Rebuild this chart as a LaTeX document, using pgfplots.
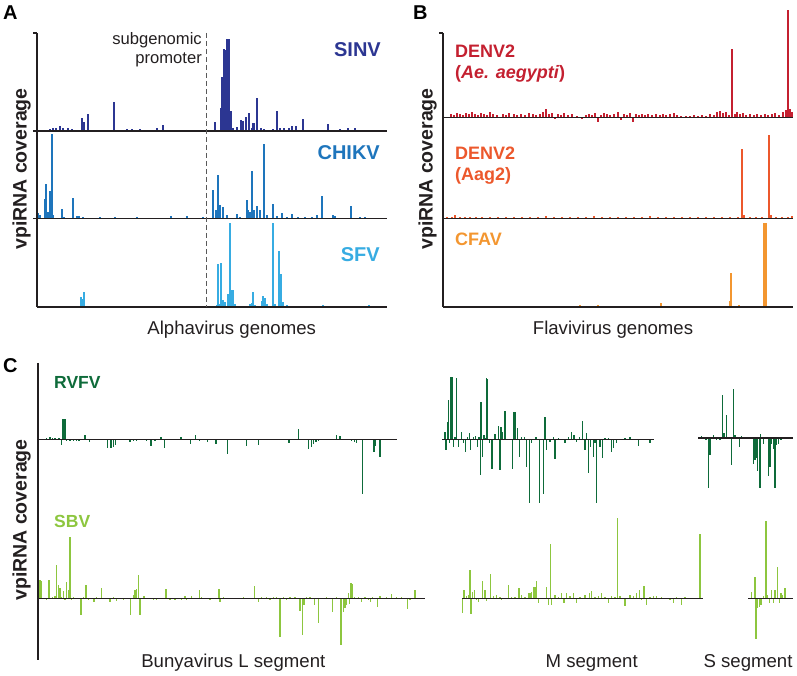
\documentclass[border=0pt]{standalone}
\usepackage{pgfplots}
\pgfplotsset{compat=1.18}
\usepackage{fontspec}
\setmainfont{Liberation Sans}
\definecolor{csinv}{RGB}{44,54,146}
\definecolor{cchikv}{RGB}{30,117,188}
\definecolor{csfv}{RGB}{55,172,226}
\definecolor{cdenva}{RGB}{196,32,48}
\definecolor{cdenvb}{RGB}{236,88,44}
\definecolor{ccfav}{RGB}{243,150,48}
\definecolor{crvfv}{RGB}{14,107,58}
\definecolor{csbv}{RGB}{141,198,63}
\definecolor{cax}{RGB}{35,31,32}
\pgfplotsset{
  sub/.style={scale only axis, axis lines=none, clip=false, anchor=south west},
}
\tikzset{base/.style={draw=cax, line width=1.5pt}}
\newcommand{\fs}[1]{\fontsize{#1}{#1}\selectfont}
\begin{document}
\begin{tikzpicture}[x=1pt,y=1pt]
\useasboundingbox (0pt,0pt) rectangle (797pt,675pt);
% ================= Panel A =================
\begin{axis}[sub, at={(37pt,544pt)}, width=350pt, height=98pt, xmin=37, xmax=387, ymin=0, ymax=98]
\addplot[ycomb, color=csinv, line width=2.2pt] coordinates {
(50,2)(53,2.5)(56,3)(60,5.3)(63,3)(68,3)(72,1.5)(78,1)(82,13.3)(84,9)(88,16.7)(95,1)(100,1)(105,1)
(114,28.7)(127,1.5)(132,1.5)(140,2)(150,1)(157,3)(163,6.3)(170,1)(180,1)(190,1)
(215,8.7)(221,23)(222.5,54)(224,82)(225.5,81)(227,92)(229,92)(231,20)(233,3)(237,4)(241,11)(243,10)
(246,14)(249,18)(252,3)(253.5,8)(257,33)(261,3)(264,2)(270,1)(273,2)(277,20)(280,3)(284,2.5)(289,2.5)
(292,5)(296,5.3)(303,12.3)(310,1)(318,1)(328,6.7)(335,1)(340,1.7)(348,3)(355,3)(358,1)(365,1)};
\draw[base] (axis cs:37,0) -- (axis cs:387,0);
\end{axis}
\begin{axis}[sub, at={(37pt,456.5pt)}, width=350pt, height=87.5pt, xmin=37, xmax=387, ymin=0, ymax=87.5]
\addplot[ycomb, color=cchikv, line width=1.8pt] coordinates {
(38.3,5)(40,3.3)(45,19.3)(46.3,34.3)(47.7,6.7)(50,27.7)(51.7,84)(52.7,3)(62.3,9.3)(64,1.7)(73.3,20)
(77.3,2.3)(79.3,2.3)(82.7,1.7)(100,1)(115,1)(136.7,1)(170.7,2.3)(186.7,2.3)(203.3,1)
(213.3,28.3)(216,8.3)(218.3,43.3)(220,13)(222.7,11)(226.7,3.3)(236.7,4.3)(240,1)(246.7,18.3)(248.3,8.3)
(250,6.7)(252.3,47.3)(254,8.3)(257.3,12.7)(260,8.3)(263.7,74.3)(266.7,3.3)(273.3,14.3)(276.7,2.3)
(282.3,5)(286.7,1.7)(291.7,4.3)(298.3,1)(305,1)(312,1)(317.3,3.3)(322,22.3)(333.3,3.3)(335,2)
(350.7,12.3)(360,1)(365,1)};
\draw[base] (axis cs:37,0) -- (axis cs:387,0);
\end{axis}
\begin{axis}[sub, at={(37pt,368pt)}, width=350pt, height=88pt, xmin=37, xmax=387, ymin=0, ymax=88]
\addplot[ycomb, color=csfv, line width=1.8pt] coordinates {
(40,0.7)(45,0.7)(50,0.7)(55,0.7)(61.7,1.3)(65,1)(81,10)(82.3,8)(84,15)(105,1)(183.3,1)
(216.7,1.7)(217.7,42.7)(219.3,3.3)(221,44)(222.7,6.7)(225,5)(228.3,13.3)(230,84.3)(231.7,17.3)
(233.3,17.3)(235,3.3)(250,3.3)(251.7,4)(253,15)(255,1.7)(261.7,6)(263.3,10.7)(265,9)(266.7,3.3)
(272.7,84.3)(275,3.3)(279.3,55.7)(281,33.3)(282.7,5)(286.7,1.7)(323.3,2.3)(369.3,1.7)};
\draw[base] (axis cs:37,0) -- (axis cs:387,0);
\end{axis}
% ================= Panel B =================
\begin{axis}[sub, at={(443pt,557.5pt)}, width=350pt, height=84.5pt, xmin=443, xmax=793, ymin=0, ymax=84.5]
\addplot[ycomb, color=cdenva, line width=1.2pt] coordinates {
(451,3)(454,2)(457,4)(460,3)(463,2)(466,4)(469,3)(472,5)(475,3)(478,2)(481,4)(484,3)(487,2)(490,5)
(493,3)(497,2)(503,3)(506,2)(509,4)(514,3)(517,2)(521,3)(525,2)(529,4)(533,3)(536,2)(540,3)(543,5)
(546,8)(549,3)(552,4)(555,-2)(558,3)(561,2)(564,4)(568,2)(572,3)(577,1)(582,-2)(586,2)(589,3)(592,2)
(595,4)(598,-5)(601,2)(604,4)(607,3)(610,2)(614,3)(618,5)(621,-3)(624,3)(627,2)(630,4)(633,-5)
(636,3)(639,2)(642,3)(645,2)(648,3)(652,2)(656,3)(660,2)(663,3)(666,2)(670,3)(674,4)(677,2)(681,1)
(686,1)(690,1)(694,2)(698,1)(702,2)(706,1)(710,3)(714,2)(717,5)(720,6)(723,4)(726,5)(729,2)
(732,68)(735,3)(737,5)(740,3)(743,4)(746,2)(750,3)(754,2)(757,3)(761,2)(765,3)(768,2)(772,3)(775,4)
(779,2)(783,5)(786,7)(788,107)(790,8)(792,5)};
\draw[base] (axis cs:443,0) -- (axis cs:793,0);
\end{axis}
\begin{axis}[sub, at={(443pt,456.5pt)}, width=350pt, height=87pt, xmin=443, xmax=793, ymin=0, ymax=87]
\addplot[ycomb, color=cdenvb, line width=1.4pt] coordinates {
(447,1)(452,1)(455,3)(460,1)(465,1)(470,1)(476,1)(482,1)(490,1)(498,1)(506,1)(514,1)(522,1)(530,1)
(538,1)(546,2)(554,1)(562,1)(570,1)(578,1)(586,1)(594,2)(602,1)(610,1)(618,1)(626,1)(634,1)(642,1)
(650,2)(658,1)(666,1)(674,1)(682,1)(690,1)(698,1)(706,1)(714,1)(722,1)(730,1)(738,1)(742,69)(744,3)
(750,1)(756,1)(762,1)(769,83)(771,3)(776,1)(782,1)(788,1)(792,2)};
\draw[base] (axis cs:443,0) -- (axis cs:793,0);
\end{axis}
\begin{axis}[sub, at={(443pt,368pt)}, width=350pt, height=87pt, xmin=443, xmax=793, ymin=0, ymax=87]
\addplot[ycomb, color=ccfav, line width=1.4pt] coordinates {
(580,2)(598,2)(661,4)(730,6)(731,34)(739,2)(764,84)(765,84)(766,84)};
\draw[base] (axis cs:443,0) -- (axis cs:793,0);
\end{axis}
% ================= Panel C =================
\begin{axis}[sub, at={(38pt,165.5pt)}, width=359pt, height=140pt, xmin=38, xmax=397, ymin=-70, ymax=70]
\addplot[ycomb, color=crvfv, line width=1.2pt] coordinates {
(46.7,1)(50,2.7)(52.3,1.7)(55,1)(59,1.3)(61.7,-6)(63,20)(64.3,20)(65.3,20)(66.7,-1.7)(70,-1.7)(73.3,-2)
(76.7,-1.7)(79,-2)(85,4)(89.3,-2.7)(100,-1)(103.3,-1)(107.7,-8.3)(111,-8.3)(113.3,-7.3)(115.7,-6)
(130,-2.7)(133.3,-2)(136.7,-1.7)(140,-1)(143.3,-0.7)(146.7,-2)(151,-6.7)(155,-1.7)(161,2.7)(164.3,-8.3)
(181,2.7)(190.7,-5)(195.3,4.3)(199.3,-1.7)(207.3,-2.3)(216,-5)(227.7,-14.3)(246.7,-6.7)(258.3,-5.3)
(289,-3.3)(298.7,10)(308.3,-10)(311.7,-7.3)(313.3,-5)(316,-2.7)(318.3,-1.7)(321.7,-1)(336.7,4)(340,3.3)
(345,-1)(348.3,-1)(351.7,-1.7)(354.3,-2.3)(356.7,-3.3)(362.7,-55)(374,-12.3)(375.7,-6.7)(380,-17.7)};
\draw[base] (axis cs:38,0) -- (axis cs:397,0);
\end{axis}
\begin{axis}[sub, at={(442pt,165.5pt)}, width=212pt, height=140pt, xmin=442, xmax=654, ymin=-70, ymax=70]
\addplot[ycomb, color=crvfv, line width=1.2pt] coordinates {
(445,7.7)(446,-10.7)(447.3,17.7)(448.3,39.3)(449.3,-4)(451,62)(452.3,62)(453.3,-7.3)(455,2.7)(456.7,61)
(458.3,-7.3)(461.7,7.7)(463.3,-4)(465.7,-12.3)(467.3,2.7)(469.3,6.7)(470.7,-10.7)(473.3,2.7)(475.7,3.3)
(477.3,-7.3)(479,2)(480.7,-35.7)(481,37.7)(482.3,-17.3)(484,4.3)(486,1)(486.7,61)(487.7,60)(489.3,-4)
(492,-30)(495,5.3)(498.3,13.3)(500,-30.7)(501,12)(502.7,7.7)(505,28.7)(506.7,-0.7)(512.7,-30)(514,27.7)
(515.7,27.7)(517.3,11)(519.3,-17.3)(521.7,2.7)(524.3,2.7)(526.7,-27.3)(529.3,-63)(531.7,-4)(534.3,-0.7)
(536,2.7)(539.3,-63)(543.3,-54)(545,22)(546.7,-10.7)(550,-2.3)(553.3,2.7)(555,-20)(558.3,1)(561.7,-0.7)
(565,-4)(568.3,2.7)(571.7,7.7)(574,4.3)(576.7,-2.3)(579.3,2)(582.7,18.3)(585,-10.7)(586.7,6)(588.3,-33.3)
(590.7,-8)(593.3,-17.3)(595,-4)(596.7,-63)(600,-7.3)(602.3,-19)(605,1)(608.3,1)(611.7,-12.3)(613.3,-9)
(616.7,-4)(620,-0.7)(625,1)(630,2.7)(634,-0.7)(638.3,-6.7)(643.3,-0.7)(650,-3.3)};
\draw[base] (axis cs:442,0) -- (axis cs:654,0);
\end{axis}
\begin{axis}[sub, at={(698pt,167pt)}, width=95pt, height=140pt, xmin=698, xmax=793, ymin=-70, ymax=70]
\addplot[ycomb, color=crvfv, line width=1.2pt] coordinates {
(701.7,1.7)(703.3,1)(706,-2.3)(708.3,-50)(710,-17.3)(711.7,1)(713.3,2.7)(715,0.3)(716.7,-2.3)(720,-1.7)
(722.3,42.7)(724,5)(726.7,22.7)(728.3,1)(731.7,-26.7)(733.3,49.3)(735,2.7)(739.3,-9)(741.7,2)
(753.3,-25.7)(755,-22.3)(756.7,-20)(757.7,-33.3)(760,-50)(760.7,4.3)(763.3,-5.7)(766,-0.7)(768.3,-38.3)
(770,-29)(771.7,-5.7)(773.3,-10.7)(775,-50)(776.7,-7.3)(778.3,-5.7)(781,-2)(784,-1)};
\draw[base] (axis cs:698,0) -- (axis cs:793,0);
\end{axis}
\begin{axis}[sub, at={(38pt,6.3pt)}, width=387pt, height=140pt, xmin=38, xmax=425, ymin=-70, ymax=70]
\addplot[ycomb, color=csbv, line width=1.3pt] coordinates {
(40,18.7)(41.7,18)(46.7,-1.3)(49,18.7)(52.3,1.3)(55,2.7)(56.7,33.7)(58.3,13.7)(60,10.3)(61.7,2)(63.3,7.7)
(65,-1.3)(66.7,17)(68.3,8.7)(70,62)(71.7,-1.3)(73.3,2)(81,-16.3)(83.3,1.3)(86,14)(88.3,-1.3)(94,-3.7)
(96.7,2)(101.7,10.7)(110,-3.3)(113.3,2)(116.7,-2)(123.3,-1.3)(130.7,-16.3)(133.3,3.7)(135,8.7)(136.7,9.3)
(138.3,23.7)(140,-16.3)(144,3)(153.3,-1.3)(156.7,-0.7)(166,9.3)(170,-1.3)(175,-0.7)(181.7,-1.3)(185,2.7)
(186.7,-0.7)(191.7,2.7)(199.3,8.7)(201.7,2)(210,-1.3)(219,10)(220,-3.3)(223.3,2)(230,1)(243.3,1.3)
(254.3,13)(258.3,-3.7)(261.7,2)(266.7,1.3)(270,-1.3)(273.3,2)(276.7,1.3)(280,-38)(283.3,1.3)(286.7,-1.3)
(290,2)(295,1.3)(300,-12)(302.7,-36.3)(304,-6.3)(306.7,2)(310,2)(314.3,-6.3)(318.7,-24.7)(326.7,1.3)
(332.7,-13)(336.7,2)(341,-46.3)(343.3,-13)(345,-9)(346.7,-6.3)(348.3,5.3)(349.3,-5.7)(351,15.3)
(352.7,14.7)(354.3,2)(358.3,1.3)(361.7,-3)(365,1.3)(368.3,-1.3)(370.7,-3.7)(372.7,1.3)(377.7,-8)(380,2.7)
(386.7,1.3)(391.7,4.7)(396.7,1.3)(401.7,2)(407.3,-10.7)(410,-0.7)(415,8.7)};
\draw[base] (axis cs:38,0) -- (axis cs:425,0);
\end{axis}
\begin{axis}[sub, at={(462pt,6.5pt)}, width=241pt, height=140pt, xmin=462, xmax=703, ymin=-70, ymax=70]
\addplot[ycomb, color=csbv, line width=1.3pt] coordinates {
(462.7,-15)(464,8.3)(466.7,2.3)(468.3,3.3)(470,28.3)(471,-15.7)(472.7,6.7)(474.3,8.3)(476.7,-1.7)
(478.3,-3.3)(482.7,17.3)(485,8.3)(486.7,-2.7)(490.7,24.3)(493.3,2.3)(496.7,3.3)(500,1.7)(501.7,-1.7)
(508.3,13.3)(511.7,1.7)(515,1.7)(519,10.3)(521.7,3.3)(525,1)(528.3,5)(530,5)(531.7,6.7)(534,11)
(535.7,11.7)(536.7,17.7)(538.3,-5)(546.7,11)(548.3,-6.7)(550.3,54.3)(551.7,-6.7)(555,3.3)(558.3,1.7)
(561.7,5)(564,-4.3)(566.7,5)(570,2.3)(573.3,5.7)(576.7,-5)(580,1.7)(585,3.3)(589.3,5.7)(591.7,7.7)
(595,1.7)(598.3,2.3)(601.7,5)(605,1)(608.3,-4.3)(611.7,2.3)(615,1.7)(617.7,80)(620,2.3)(625,-7.7)
(630,3.3)(633.3,2.3)(636.7,5.7)(639.3,8.3)(641.7,-1.7)(644,12.3)(646.7,-6.7)(650,1.7)(653.3,2.3)
(656.7,2.3)(661.7,1.7)(670,-1.7)(673.3,-5)(676.7,1.7)(681.7,-6.7)(685,1.7)(700,64.3)};
\draw[base] (axis cs:462,0) -- (axis cs:703,0);
\end{axis}
\begin{axis}[sub, at={(748pt,6.5pt)}, width=45pt, height=140pt, xmin=748, xmax=793, ymin=-70, ymax=70]
\addplot[ycomb, color=csbv, line width=1.3pt] coordinates {
(751.7,6.7)(755,21.7)(756,-40)(757.3,-10)(759.3,-8.3)(761,-6.7)(763.3,2.3)(766,77.7)(767.3,3.3)
(769.3,-5)(771.7,8.3)(773.3,-5)(775,8.3)(777.7,31)(779.3,-5)(781,5)(782.7,3.3)(785,10)};
\draw[base] (axis cs:748,0) -- (axis cs:793,0);
\end{axis}
% ================= axes lines & decorations =================
\draw[cax, line width=1.4pt] (37pt,642pt) -- (37pt,368pt);
\draw[cax, line width=1.4pt] (33pt,642pt) -- (37pt,642pt);
\draw[cax, line width=1.4pt] (33pt,544pt) -- (37pt,544pt);
\draw[cax, line width=1.4pt] (33pt,456.5pt) -- (37pt,456.5pt);
\draw[cax, line width=1.4pt] (443pt,642pt) -- (443pt,368pt);
\draw[cax, line width=1.4pt] (439pt,642pt) -- (443pt,642pt);
\draw[cax, line width=1.4pt] (38pt,312pt) -- (38pt,15pt);
\draw[black!65, line width=1.2pt, dash pattern=on 5pt off 3pt] (206.5pt,642pt) -- (206.5pt,368pt);
% ================= text =================
\node[anchor=base west, inner sep=0pt, font=\fs{20}\bfseries] at (3pt,655pt) {A};
\node[anchor=base west, inner sep=0pt, font=\fs{20}\bfseries] at (413pt,655pt) {B};
\node[anchor=base west, inner sep=0pt, font=\fs{20}\bfseries] at (3pt,302pt) {C};
\node[anchor=base east, inner sep=0pt, font=\fs{16.6}, text=cax] at (202pt,630pt) {subgenomic};
\node[anchor=base east, inner sep=0pt, font=\fs{16.6}, text=cax] at (202pt,611pt) {promoter};
\node[anchor=base east, inner sep=0pt, font=\fs{20}\bfseries, text=csinv] at (381pt,618.5pt) {SINV};
\node[anchor=base east, inner sep=0pt, font=\fs{20}\bfseries, text=cchikv] at (380pt,515pt) {CHIKV};
\node[anchor=base east, inner sep=0pt, font=\fs{20}\bfseries, text=csfv] at (380pt,413pt) {SFV};
\node[anchor=base west, inner sep=0pt, font=\fs{18}\bfseries, text=cdenva] at (455pt,617.3pt) {DENV2};
\node[anchor=base west, inner sep=0pt, font=\fs{18}\bfseries, text=cdenva] at (455pt,596.7pt) {(\textit{Ae. aegypti})};
\node[anchor=base west, inner sep=0pt, font=\fs{18}\bfseries, text=cdenvb] at (455pt,515pt) {DENV2};
\node[anchor=base west, inner sep=0pt, font=\fs{18}\bfseries, text=cdenvb] at (455pt,494pt) {(Aag2)};
\node[anchor=base west, inner sep=0pt, font=\fs{18}\bfseries, text=ccfav] at (455pt,429pt) {CFAV};
\node[anchor=base west, inner sep=0pt, font=\fs{17.5}\bfseries, text=crvfv] at (54pt,286.7pt) {RVFV};
\node[anchor=base west, inner sep=0pt, font=\fs{17.5}\bfseries, text=csbv] at (54pt,147.5pt) {SBV};
\node[anchor=base, inner sep=0pt, font=\fs{18.6}, text=cax] at (231.7pt,340pt) {Alphavirus genomes};
\node[anchor=base, inner sep=0pt, font=\fs{18.6}, text=cax] at (613pt,340pt) {Flavivirus genomes};
\node[anchor=base, inner sep=0pt, font=\fs{18.6}, text=cax] at (233.3pt,8pt) {Bunyavirus L segment};
\node[anchor=base, inner sep=0pt, font=\fs{18.6}, text=cax] at (591.7pt,8pt) {M segment};
\node[anchor=base, inner sep=0pt, font=\fs{18.6}, text=cax] at (748pt,8pt) {S segment};
\node[anchor=base, rotate=90, inner sep=0pt, font=\fs{19.5}\bfseries, text=cax] at (26.7pt,506pt) {vpiRNA coverage};
\node[anchor=base, rotate=90, inner sep=0pt, font=\fs{19.5}\bfseries, text=cax] at (432.5pt,506pt) {vpiRNA coverage};
\node[anchor=base, rotate=90, inner sep=0pt, font=\fs{19.5}\bfseries, text=cax] at (26.7pt,155pt) {vpiRNA coverage};
\end{tikzpicture}
\end{document}
